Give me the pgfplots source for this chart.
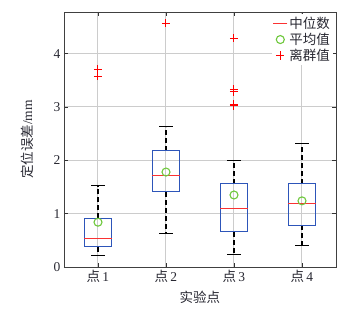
\documentclass[border=0pt]{standalone}
\usepackage{fontspec}
\setmainfont{Liberation Serif}
\newfontfamily\cjk{Noto Sans CJK SC}
\usepackage{pgfplots}
\pgfplotsset{compat=1.18}
\usepgfplotslibrary{statistics}
\definecolor{boxblue}{RGB}{45,85,185}
\definecolor{medred}{RGB}{250,50,50}
\definecolor{meangreen}{RGB}{110,200,60}
\definecolor{txt}{RGB}{40,40,50}
\begin{document}
\begin{tikzpicture}
\begin{axis}[
  name=ax,
  scale only axis,
  width=272pt, height=255pt,
  xmin=0.5, xmax=4.5, ymin=0, ymax=4.78,
  xtick={1,2,3,4},
  xticklabels={{\cjk 点}\,1,{\cjk 点}\,2,{\cjk 点}\,3,{\cjk 点}\,4},
  ytick={0,1,2,3,4},
  /pgf/number format/assume math mode=true,
  tick label style={font=\fontsize{13.5}{15}\selectfont, text=txt},
  tick align=inside,
  major tick length=4pt,
  tick style={color=black!80, line width=0.6pt},
  axis line style={color=black!75, line width=0.8pt},
  xmajorgrids, ymajorgrids,
  grid style={color=black!20, line width=1pt},
  xlabel={\cjk 实验点},
  ylabel={{\cjk 定位误差}/mm},
  every axis x label/.style={at={(axis description cs:0.5,0)}, anchor=center, yshift=-30pt, font=\fontsize{13.5}{15}\selectfont, text=txt},
  every axis y label/.style={at={(axis description cs:0,0.5)}, rotate=90, anchor=center, yshift=37pt, font=\fontsize{13.5}{15}\selectfont, text=txt},
  boxplot/draw direction=y,
  boxplot/box extend=0.4,
  boxplot/whisker extend=0,
  boxplot/every box/.style={draw=boxblue, line width=0.9pt},
  boxplot/every whisker/.style={black, line width=1.4pt, dash pattern=on 5pt off 3pt},
  boxplot/every median/.style={medred, line width=1.3pt},
  unbounded coords=jump,
  legend style={at={(1,1)}, anchor=north east, draw=none, fill=white,
    font=\fontsize{13.5}{15}\selectfont, text=txt, inner sep=1pt,
    row sep=-1pt, xshift=-3pt, yshift=-2pt},
  legend cell align=left,
]
\addplot[forget plot, boxplot prepared={median=0.53, upper quartile=0.91, lower quartile=0.38, upper whisker=1.52, lower whisker=0.21, draw position=1}] coordinates {};
\addplot[forget plot, boxplot prepared={median=1.71, upper quartile=2.18, lower quartile=1.41, upper whisker=2.63, lower whisker=0.63, draw position=2}] coordinates {};
\addplot[forget plot, boxplot prepared={median=1.10, upper quartile=1.56, lower quartile=0.66, upper whisker=1.99, lower whisker=0.23, draw position=3}] coordinates {};
\addplot[forget plot, boxplot prepared={median=1.19, upper quartile=1.56, lower quartile=0.78, upper whisker=2.32, lower whisker=0.40, draw position=4}] coordinates {};
% whisker caps
\addplot[forget plot, black, line width=0.9pt, mark=none] coordinates {
 (0.9,0.21) (1.1,0.21) (1,nan) (0.9,1.52) (1.1,1.52) (1,nan)
 (1.9,0.63) (2.1,0.63) (2,nan) (1.9,2.63) (2.1,2.63) (2,nan)
 (2.9,0.23) (3.1,0.23) (3,nan) (2.9,1.99) (3.1,1.99) (3,nan)
 (3.9,0.40) (4.1,0.40) (4,nan) (3.9,2.32) (4.1,2.32)
};
\addlegendimage{only marks, mark=-, mark size=7pt, medred, line width=1.4pt}
\addlegendentry{\cjk 中位数}
\addplot[only marks, mark=o, mark size=4pt, meangreen, line width=1.1pt] coordinates {
 (1,0.84) (2,1.78) (3,1.35) (4,1.24)
};
\addlegendentry{\cjk 平均值}
\addplot[only marks, mark=+, mark size=4.2pt, red, line width=1pt] coordinates {
 (1,3.71) (1,3.58) (2,4.57) (3,4.29) (3,3.33) (3,3.29) (3,3.05) (3,3.02)
};
\addlegendentry{\cjk 离群值}
\end{axis}
\path (ax.north east) ++(15pt,12pt);
\path (ax.south west) ++(-64pt,-42pt);
\end{tikzpicture}
\end{document}
